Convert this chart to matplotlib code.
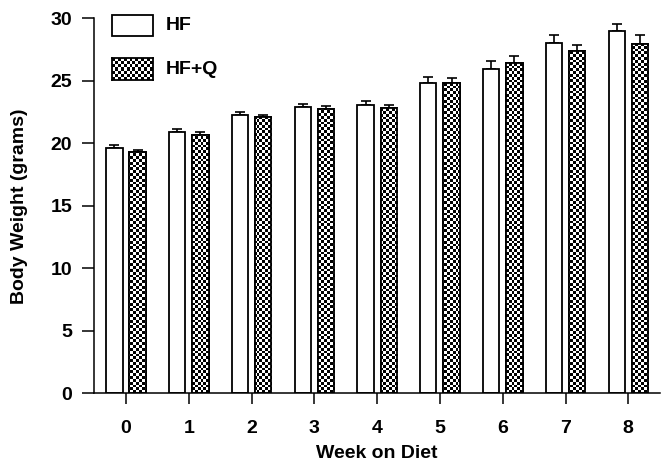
import numpy as np
import matplotlib
matplotlib.use("Agg")
import matplotlib.pyplot as plt
from matplotlib.patches import Rectangle

plt.rcParams['font.family'] = ['Liberation Sans', 'DejaVu Sans']
plt.rcParams['font.weight'] = 'bold'

weeks = ["0", "1", "2", "3", "4", "5", "6", "7", "8"]
hf = [19.6, 20.88, 22.26, 22.9, 23.06, 24.8, 25.94, 28.05, 28.96]
hf_err = [0.27, 0.25, 0.25, 0.27, 0.34, 0.5, 0.62, 0.6, 0.62]
hfq = [19.28, 20.69, 22.13, 22.74, 22.8, 24.8, 26.45, 27.38, 27.97]
hfq_err = [0.18, 0.2, 0.1, 0.22, 0.25, 0.45, 0.55, 0.5, 0.68]
legend_labels = ["HF", "HF+Q"]
ylabel = "Body Weight (grams)"
xlabel = "Week on Diet"

W, H = 668, 470
FS = 14
fig = plt.figure(figsize=(W / 100, H / 100), dpi=100)
ax = fig.add_axes([94 / W, 1 - 393.3 / H, (660 - 94) / W, (393.3 - 18.3) / H])

x = np.arange(len(weeks))
bw = 0.26
off = 0.185
lw_edge = 1.3

b1 = ax.bar(x - off, hf, width=bw, facecolor='white', edgecolor='black', linewidth=lw_edge, zorder=2)
b2 = ax.bar(x + off, hfq, width=bw, facecolor='white', edgecolor='black', linewidth=lw_edge, zorder=2)

ax.set_xlim(-0.51, 8.505)
ax.set_ylim(0, 30)

# checkerboard fill, clipped to the HF+Q bars
cell_px = 2.8
ax_w_px = 566
ax_h_px = 375
nx = int(ax_w_px / cell_px)
ny = int(ax_h_px / cell_px)
ii, jj = np.meshgrid(np.arange(nx), np.arange(ny))
checker = ((ii + jj) % 2).astype(float)
for patch in b2:
    im = ax.imshow(checker, cmap='gray', vmin=0, vmax=1, extent=(-0.51, 8.505, 0, 30),
                   aspect='auto', interpolation='nearest', zorder=2.5)
    im.set_clip_path(patch)
ax.bar(x + off, hfq, width=bw, facecolor='none', edgecolor='black', linewidth=lw_edge, zorder=3)

ax.errorbar(x - off, hf, yerr=[np.zeros(len(hf)), hf_err], fmt='none', ecolor='black',
            elinewidth=1.2, capsize=3.6, capthick=1.2, zorder=1.5)
ax.errorbar(x + off, hfq, yerr=[np.zeros(len(hfq)), hfq_err], fmt='none', ecolor='black',
            elinewidth=1.2, capsize=3.6, capthick=1.2, zorder=1.5)

ax.set_aspect('auto')
ax.set_xticks(x)
ax.set_xticklabels(weeks)
ax.set_yticks([0, 5, 10, 15, 20, 25, 30])
for s in ['top', 'right']:
    ax.spines[s].set_visible(False)
for s in ['left', 'bottom']:
    ax.spines[s].set_linewidth(1.1)
ax.tick_params(axis='y', length=8.6, width=1.1, pad=7, labelsize=FS)
ax.tick_params(axis='x', length=8, width=1.1, pad=11, labelsize=FS)
ax.set_xlabel(xlabel, fontsize=FS, fontweight='bold', labelpad=6)
ax.set_ylabel(ylabel, fontsize=FS, fontweight='bold', labelpad=16)

# legend (manual, in figure coordinates)
box_w = 41 / W
box_h = 21 / H
fig.add_artist(Rectangle((112 / W, 1 - 36 / H), box_w, box_h, transform=fig.transFigure,
                         facecolor='white', edgecolor='black', linewidth=1.3))
ax2 = fig.add_axes([112 / W, 1 - 80 / H, box_w, 22 / H])
lx = int(41 / cell_px)
ly = int(22 / cell_px)
i2, j2 = np.meshgrid(np.arange(lx), np.arange(ly))
ax2.imshow(((i2 + j2) % 2).astype(float), cmap='gray', vmin=0, vmax=1, aspect='auto',
           interpolation='nearest')
ax2.set_xticks([])
ax2.set_yticks([])
for s in ax2.spines.values():
    s.set_linewidth(1.3)
fig.text(166 / W, 1 - 25.5 / H, legend_labels[0], fontsize=FS, fontweight='bold', va='center')
fig.text(166 / W, 1 - 69 / H, legend_labels[1], fontsize=FS, fontweight='bold', va='center')

fig.savefig("out.png", dpi=100)
